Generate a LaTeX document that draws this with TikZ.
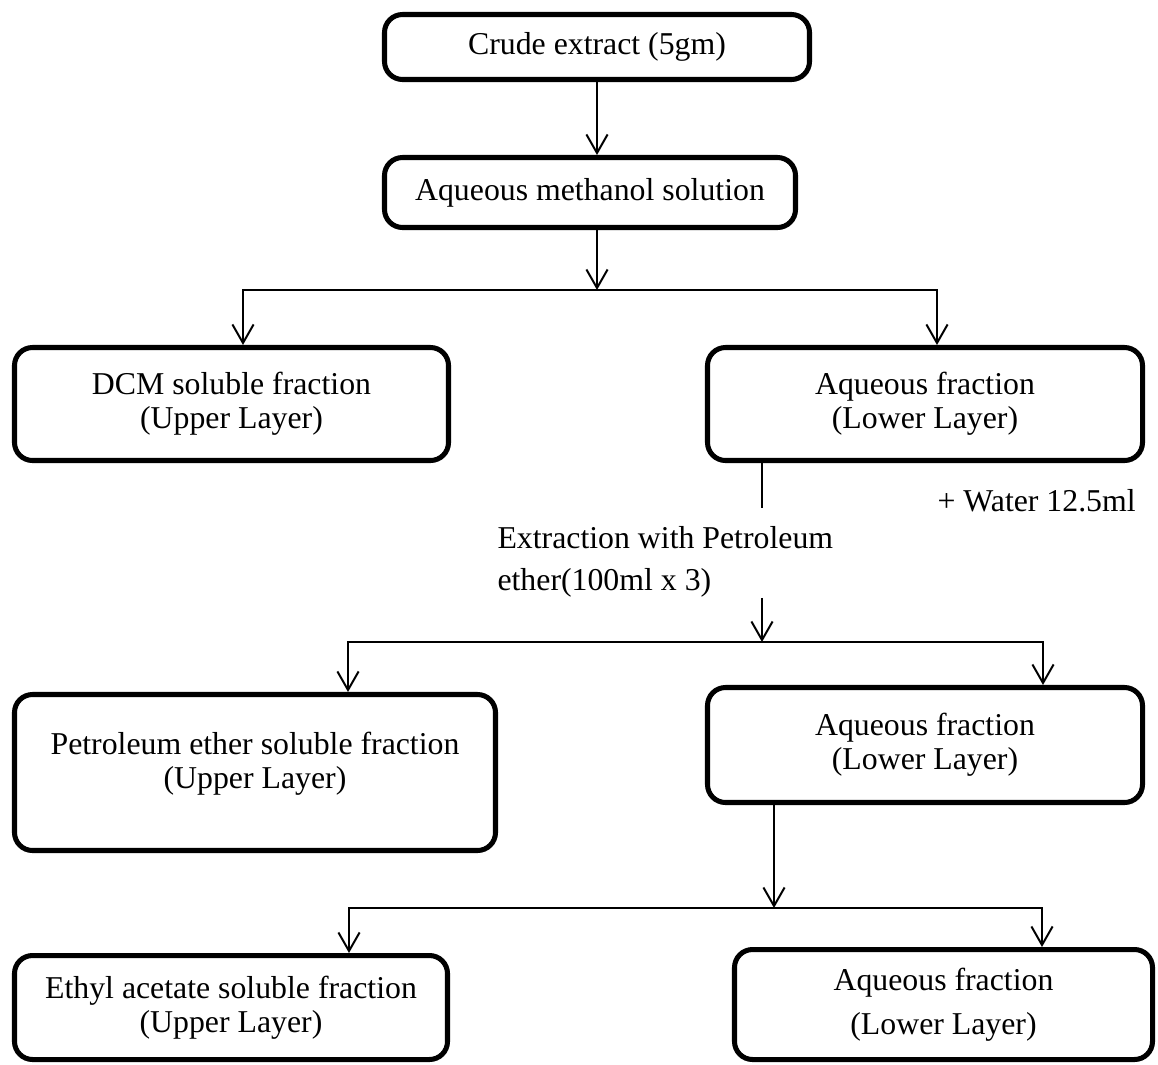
\documentclass[tikz,border=0pt]{standalone}
\usepackage{fontspec}
\setmainfont{Liberation Serif}
\usetikzlibrary{arrows.meta}
\tikzset{% change default arrow tips
    >={Straight Barb[length=7pt,width=8pt]}
}

\begin{document}
\begin{tikzpicture}[x=0.3774pt,y=-0.3774pt]
    \newcommand{\pxl}{0.3774} % one pixel of the layout, in pt
    \newcommand{\thick}{1.9pt} % border of the boxes
    \newcommand{\thin}{0.75pt} % connectors

    % set the style of the boxes and connectors
    \tikzset{
        stepbox/.style={
            draw,
            line width=\thick,
            rounded corners=6.8pt,
            align=center,
            inner sep=0pt,
            font=\fontsize{12}{12.8}\selectfont
            },
        boxsize/.style 2 args={
            minimum width=#1*\pxl*1pt,
            minimum height=#2*\pxl*1pt
            },
        flow/.style={->, line width=\thin},
        link/.style={-, line width=\thin},
        note/.style={inner sep=0pt, align=left, font=\fontsize{12}{15.85}\selectfont}
    }

    \useasboundingbox (0,0) rectangle (1158,1064);

    % boxes
    \node[stepbox, boxsize={425}{65}] (crude) at (597,47) {Crude extract (5gm)};
    \node[stepbox, boxsize={411}{70}] (meth) at (590,192.5) {Aqueous methanol solution};
    \node[stepbox, boxsize={434}{113}] (dcm) at (231.5,404) {DCM soluble fraction\\(Upper Layer)};
    \node[stepbox, boxsize={435}{113}] (aqa) at (925,404) {Aqueous fraction\\(Lower Layer)};
    \node[stepbox, boxsize={481}{156}] (pet) at (255,772.5) {};
    \node[align=center, inner sep=0pt, font=\fontsize{12}{12.8}\selectfont] (pettext) at (255,763.5) {Petroleum ether soluble fraction\\(Upper Layer)};
    \node[stepbox, boxsize={435}{115}] (aqb) at (925,745) {Aqueous fraction\\(Lower Layer)};
    \node[stepbox, boxsize={433}{104}] (ethyl) at (231,1007.5) {Ethyl acetate soluble fraction\\(Upper Layer)};
    \node[stepbox, boxsize={418}{110}, font=\fontsize{12}{16.6}\selectfont] (aqc) at (943.5,1004.5) {Aqueous fraction\\(Lower Layer)};

    % side notes
    \node[note, anchor=base west] (water) at (937,511) {+ Water 12.5ml};
    \node[note, anchor=north west] (extr) at (497,526) {Extraction with Petroleum\\ether(100ml x 3)};

    % branching points
    \coordinate (splita) at (597,290);
    \coordinate (splitaL) at (243,290);
    \coordinate (splitaR) at (937,290);
    \coordinate (down) at (762,508);
    \coordinate (splitb) at (762,642);
    \coordinate (splitbL) at (348,642);
    \coordinate (splitbR) at (1043,642);
    \coordinate (splitc) at (774,908);
    \coordinate (splitcL) at (349,908);
    \coordinate (splitcR) at (1042,908);

    % arrows
    \draw[flow] (crude.south) -- (crude.south |- meth.north);
    \draw[flow] (splita |- meth.south) -- (splita);
    \draw[<->, line width=\thin] (splitaL |- dcm.north) -- (splitaL) -- (splitaR) -- (splitaR |- aqa.north);

    \draw[link] (down |- aqa.south) -- (down);
    \draw[flow] (splitb |- extr.south) -- (splitb);
    \draw[<->, line width=\thin] (splitbL |- pet.north) -- (splitbL) -- (splitbR) -- (splitbR |- aqb.north);

    \draw[flow] (splitc |- aqb.south) -- (splitc);
    \draw[<->, line width=\thin] (splitcL |- ethyl.north) -- (splitcL) -- (splitcR) -- (splitcR |- aqc.north);
\end{tikzpicture}
\end{document}
